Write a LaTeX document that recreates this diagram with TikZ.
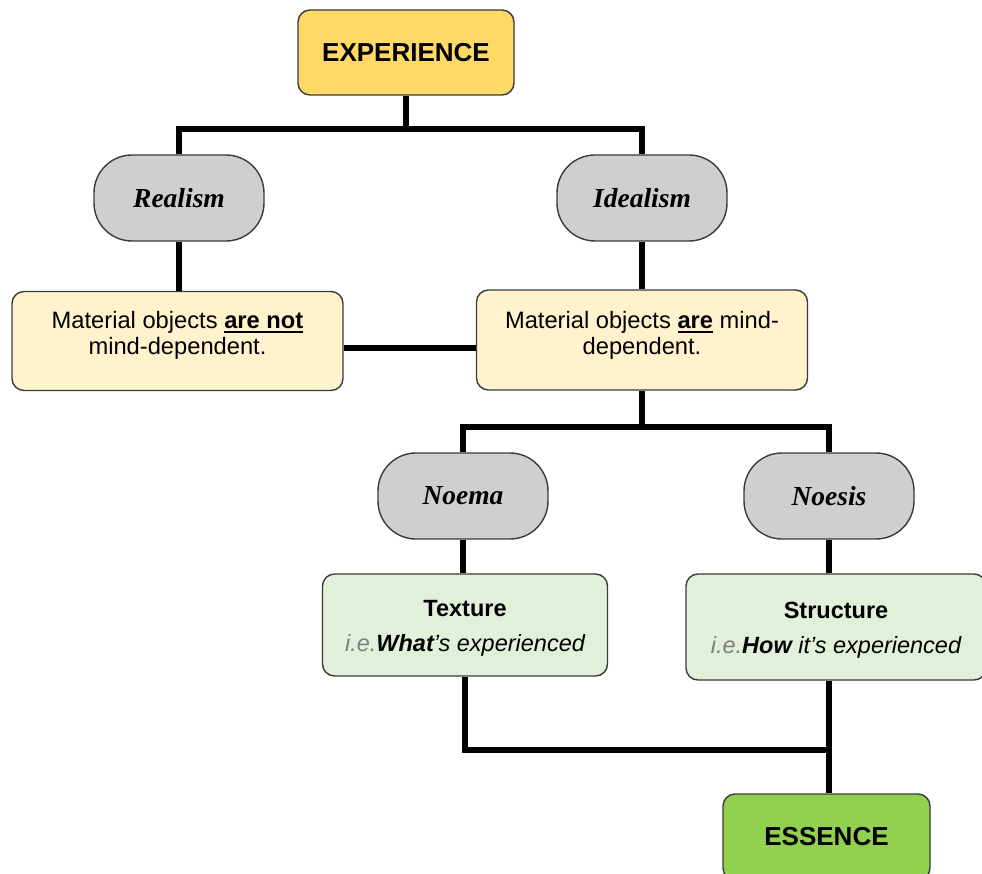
\documentclass[tikz,border=0pt]{standalone}
\usepackage{fontspec}
\setmainfont{Liberation Sans}
\newfontfamily\serifbi{Liberation Serif}
\usetikzlibrary{calc}

\definecolor{goldfill}{HTML}{FFD966}
\definecolor{pillgray}{HTML}{D0CECE}
\definecolor{cream}{HTML}{FFF2CC}
\definecolor{palegreen}{HTML}{E2EFDA}
\definecolor{leafgreen}{HTML}{92D050}
\definecolor{edgegray}{HTML}{3A3A3A}
\definecolor{iegray}{HTML}{7F7F7F}

% heavy underline used for the emphasised verbs
\newcommand\thickul[1]{\setbox0\hbox{#1}\rlap{\rule[-5pt]{\wd0}{2pt}}\box0\relax}
% two-line text block, optionally nudged vertically
\newcommand\twolines[3][0pt]{\raisebox{#1}[\height][\depth]{\begin{tabular}{@{}c@{}}#2\\#3\end{tabular}}}

\tikzset{
  base/.style={draw=edgegray, line width=1.4pt, inner sep=0pt, align=center},
  titlebox/.style={base, rounded corners=12pt, font=\fontsize{26}{30}\selectfont\bfseries},
  pill/.style={base, fill=pillgray, rounded corners=38pt, minimum width=170pt,
    minimum height=86pt, font=\serifbi\fontsize{27.5}{31}\selectfont\bfseries\itshape},
  claim/.style={base, fill=cream, rounded corners=12pt, minimum width=331pt,
    minimum height=99pt, font=\fontsize{23.7}{26}\selectfont},
  aspect/.style={base, fill=palegreen, rounded corners=12pt, minimum height=102pt,
    font=\fontsize{23.5}{26}\selectfont},
  link/.style={line width=5.5pt, black}
}

\begin{document}
\begin{tikzpicture}[x=1pt, y=-1pt]
  \useasboundingbox (0,0) rectangle (982,874);
  \clip (0,0) rectangle (982,874);

  % nodes
  \node[titlebox, fill=goldfill, minimum width=216pt, minimum height=85pt] (exp) at (406,52.5) {EXPERIENCE};
  \node[pill] (real) at (179,198) {Realism};
  \node[pill] (ideal) at (642,198) {Idealism};
  \node[claim] (notdep) at (177.5,341)
    {\twolines[5pt]{Material objects \thickul{\textbf{are not}}}{mind-dependent.}};
  \node[claim, minimum height=100pt] (isdep) at (642,340)
    {\twolines[4pt]{Material objects \thickul{\textbf{are}} mind-}{dependent.}};
  \node[pill] (noema) at (463,496) {Noema};
  \node[pill] (noesis) at (829,496) {Noesis};
  \node[aspect, minimum width=285pt] (texture) at (465,625)
    {\twolines[-4pt]{\textbf{Texture}\\[-17pt]}{{\color{iegray}\itshape i.e.}{\bfseries\itshape What}{\itshape ’s experienced}}};
  \node[aspect, minimum width=300pt, minimum height=106pt] (structure) at (836,627)
    {\twolines[-4pt]{\textbf{Structure}\\[-17pt]}{{\color{iegray}\itshape i.e.}{\bfseries\itshape How}{\itshape\ it’s experienced}}};
  \node[titlebox, fill=leafgreen, minimum width=207pt, minimum height=86pt] (essence) at (826.5,837) {ESSENCE};

  % connectors
  \coordinate (fork1) at (406,129);
  \draw[link] (exp.south) -- (fork1);
  \draw[link] (real.north) -- (real.north |- fork1) -- (ideal.north |- fork1) -- (ideal.north);
  \draw[link] (real.south) -- (real.south |- notdep.north);
  \draw[link] (ideal.south) -- (isdep.north);
  \draw[link] ([yshift=-7pt]notdep.east) -- ([yshift=-7pt]notdep.east -| isdep.west);

  \coordinate (fork2) at (642,427);
  \draw[link] (isdep.south) -- (fork2);
  \draw[link] (noema.north) -- (noema.north |- fork2) -- (noesis.north |- fork2) -- (noesis.north);
  \draw[link] (noema.south) -- (noema.south |- texture.north);
  \draw[link] (noesis.south) -- (noesis.south |- structure.north);

  \coordinate (fork3) at (829,750);
  \draw[link] (texture.south) |- (fork3);
  \draw[link] (fork3 |- structure.south) -- (fork3 |- essence.north);
\end{tikzpicture}
\end{document}
